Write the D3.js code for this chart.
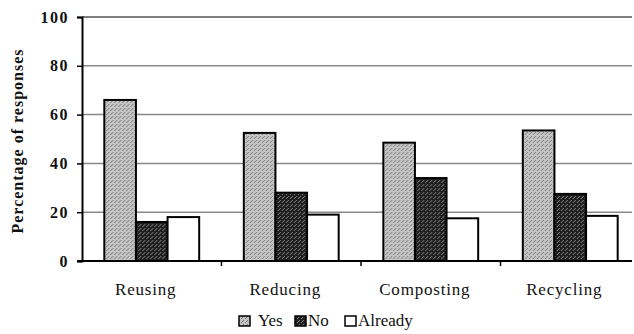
<!DOCTYPE html>
<html>
<head>
<meta charset="utf-8">
<script src="https://cdn.jsdelivr.net/npm/d3@7"></script>
<style>
  body { margin: 0; background: #fff; }
  svg { display: block; }
  text { font-family: "Liberation Serif", "DejaVu Serif", serif; fill: #111; }
</style>
</head>
<body>
<div id="chart"></div>
<script>
// data
var categories = ["Reusing", "Reducing", "Composting", "Recycling"];
var seriesNames = ["Yes", "No", "Already"];
var yesValues = [66, 52.5, 48.5, 53.5];
var noValues = [16, 28, 34, 27.5];
var alreadyValues = [18, 19, 17.5, 18.5];
var yTicks = [0, 20, 40, 60, 80, 100];

var width = 634, height = 334;
var margin = {top: 17, right: 0, bottom: 73, left: 82};

var svg = d3.select("#chart").append("svg")
  .attr("width", width)
  .attr("height", height);

// stipple patterns for the scanned look
var defs = svg.append("defs");
function stipple(id, bg, dot) {
  var p = defs.append("pattern")
    .attr("id", id)
    .attr("width", 4).attr("height", 4)
    .attr("patternUnits", "userSpaceOnUse");
  p.append("rect").attr("width", 4).attr("height", 4).attr("fill", bg);
  p.append("rect").attr("x", 0).attr("y", 0).attr("width", 1).attr("height", 1).attr("fill", dot);
  p.append("rect").attr("x", 2).attr("y", 2).attr("width", 1).attr("height", 1).attr("fill", dot);
  p.append("rect").attr("x", 3).attr("y", 1).attr("width", 1).attr("height", 1).attr("fill", dot);
}
stipple("patYes", "#c4c4c4", "#7a7a7a");
stipple("patNo", "#1e1e1e", "#8a8a8a");

var fills = {"Yes": "url(#patYes)", "No": "url(#patNo)", "Already": "#fff"};

var x = d3.scaleBand()
  .domain(categories)
  .range([margin.left, 640])
  .paddingInner(0.32)
  .paddingOuter(0.16);

var xTicks = d3.scaleBand().domain(categories).range([margin.left, 640]);

var x1 = d3.scaleBand()
  .domain(seriesNames)
  .range([0, x.bandwidth()]);

var y = d3.scaleLinear()
  .domain([0, 100])
  .range([height - margin.bottom, margin.top]);

// gridlines
svg.append("g")
  .selectAll("line")
  .data(yTicks.slice(1))
  .join("line")
  .attr("x1", margin.left)
  .attr("x2", 632)
  .attr("y1", d => y(d))
  .attr("y2", d => y(d))
  .attr("stroke", d => d == 100 ? "#555" : "#888")
  .attr("stroke-width", 1.5);

var rows = categories.map((c, i) => ({
  cat: c,
  vals: [yesValues[i], noValues[i], alreadyValues[i]]
}));

var groups = svg.append("g")
  .selectAll("g")
  .data(rows)
  .join("g")
  .attr("transform", d => `translate(${x(d.cat)},0)`);

groups.selectAll("rect")
  .data(d => d.vals.map((v, j) => ({key: seriesNames[j], value: v})))
  .join("rect")
  .attr("x", d => x1(d.key))
  .attr("y", d => y(d.value))
  .attr("width", x1.bandwidth())
  .attr("height", d => y(0) - y(d.value))
  .attr("fill", d => fills[d.key])
  .attr("stroke", "#000")
  .attr("stroke-width", 2);

// y axis
var yAxis = svg.append("g")
  .attr("transform", `translate(${margin.left},0)`)
  .call(d3.axisLeft(y).tickValues(yTicks).tickSize(5).tickPadding(8));
yAxis.attr("font-family", null).attr("font-size", null);
yAxis.select(".domain").attr("stroke", "#000").attr("stroke-width", 2);
yAxis.selectAll(".tick line").attr("stroke", "#000").attr("stroke-width", 1.5);
yAxis.selectAll("text")
  .style("font-size", "16px")
  .style("font-weight", "bold")
  .style("letter-spacing", "1.5px")
  .attr("fill", "#111");

// x axis
var xAxisG = svg.append("g")
  .attr("transform", `translate(0,${y(0)})`);
xAxisG.append("line")
  .attr("x1", margin.left - 5).attr("x2", 632)
  .attr("stroke", "#000").attr("stroke-width", 2);
xAxisG.selectAll("line.tk")
  .data(categories.slice(1))
  .join("line")
  .attr("class", "tk")
  .attr("x1", d => xTicks(d)).attr("x2", d => xTicks(d))
  .attr("y1", 0).attr("y2", 5)
  .attr("stroke", "#000").attr("stroke-width", 1.5);
xAxisG.selectAll("text")
  .data(categories)
  .join("text")
  .attr("x", d => xTicks(d) + xTicks.bandwidth() / 2 - 6)
  .attr("y", 34)
  .attr("text-anchor", "middle")
  .style("font-size", "17px")
  .style("letter-spacing", "0.8px")
  .text(d => d);

// y title
svg.append("text")
  .attr("transform", `translate(23,${(y(0) + y(100)) / 2 + 2}) rotate(-90)`)
  .attr("text-anchor", "middle")
  .style("font-weight", "bold")
  .style("font-size", "16px")
  .style("letter-spacing", "1px")
  .text("Percentage of responses");

// legend
var legendX = [239, 295, 345];
var legend = svg.append("g")
  .selectAll("g")
  .data(seriesNames)
  .join("g")
  .attr("transform", (d, i) => `translate(${legendX[i]},316)`);
legend.append("rect")
  .attr("width", 11).attr("height", 10)
  .attr("fill", d => fills[d])
  .attr("stroke", "#000").attr("stroke-width", 1.5);
legend.append("text")
  .attr("x", d => d == "Yes" ? 19 : 13)
  .attr("y", 10)
  .style("font-size", "17px")
  .text(d => d);
</script>
</body>
</html>
